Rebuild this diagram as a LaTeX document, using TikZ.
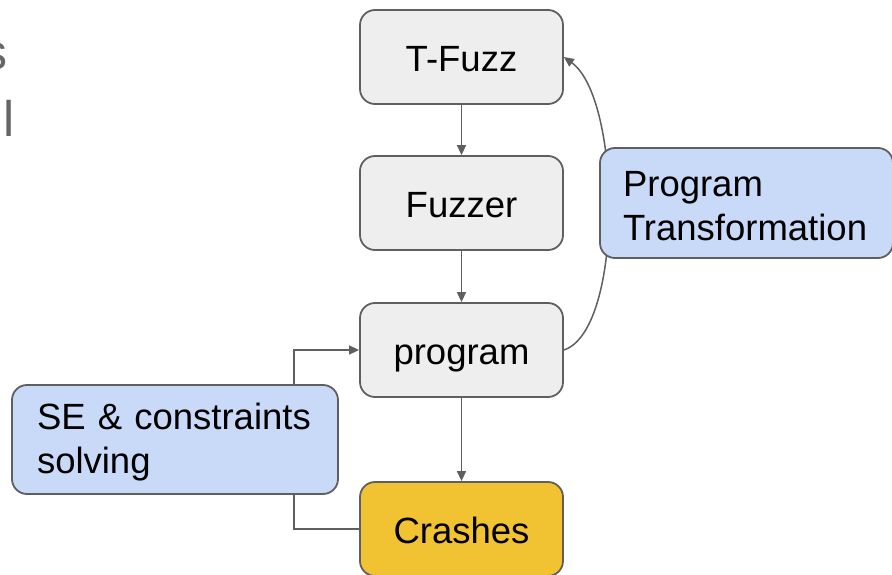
\documentclass[tikz,border=0pt]{standalone}
\usepackage{fontspec}
\setmainfont{Liberation Sans}
\usetikzlibrary{arrows.meta,calc}
\definecolor{edgegray}{HTML}{5F5F5F}
\definecolor{boxgray}{HTML}{EEEEEE}
\definecolor{boxblue}{HTML}{C9DAF8}
\definecolor{boxyellow}{HTML}{F1C232}
\definecolor{slidetext}{HTML}{666666}
\newcommand{\firstlinestrut}{\rule{0pt}{31.5pt}}
\tikzset{
  box/.style={draw=edgegray, line width=1.8pt, rounded corners=15pt,
    minimum width=203pt, minimum height=94pt, inner sep=0pt,
    font=\fontsize{36.5}{44}\selectfont},
  plainbox/.style={box, fill=boxgray, text height=29pt, text depth=0pt},
  hotbox/.style={plainbox, fill=boxyellow},
  notebox/.style={box, fill=boxblue, align=left},
  link/.style={draw=edgegray, line width=1.5pt},
  arr/.style={link, -{Triangle[length=10pt,width=9pt]}},
}
\begin{document}
\begin{tikzpicture}[x=1pt,y=-1pt]
\useasboundingbox (0,0) rectangle (892,575);
\clip (0,0) rectangle (892,575);

% leftover slide text at the left margin
\node[anchor=base east, inner sep=0pt, text=slidetext,
      font=\fontsize{50}{60}\selectfont] (sfrag) at (8,70) {s};
\node[anchor=base west, inner sep=0pt, text=slidetext,
      font=\fontsize{50}{60}\selectfont] (lfrag) at (3.5,137) {l};

% main pipeline
\node[plainbox] (tfuzz)   at (461.5,57)  {T-Fuzz};
\node[plainbox] (fuzzer)  at (461.5,203) {Fuzzer};
\node[plainbox] (program) at (461.5,350) {program};
\node[hotbox]   (crashes) at (461.5,529) {Crashes};
\node[notebox, minimum width=326pt, minimum height=109pt, text width=276pt]
      (se) at (175,439.5) {\firstlinestrut SE \& constraints\\solving};

\draw[arr] (tfuzz) -- (fuzzer);
\draw[arr] (fuzzer) -- (program);
\draw[arr] (program) -- (crashes);

% feedback loop through constraint solving
\draw[link] ([xshift=-45pt]se.south east) |- (crashes.west);
\draw[arr] ([xshift=-45pt]se.north east) |- (program.west);

% transformation loop back to T-Fuzz (passes behind its label box)
\draw[arr] (program.east) .. controls +(60,-20) and +(58,42) .. (tfuzz.east);
\node[notebox, minimum width=293pt, minimum height=110pt, text width=247pt]
      (transform) at (746.5,203) {\firstlinestrut Program\\Transformation};
\end{tikzpicture}
\end{document}
